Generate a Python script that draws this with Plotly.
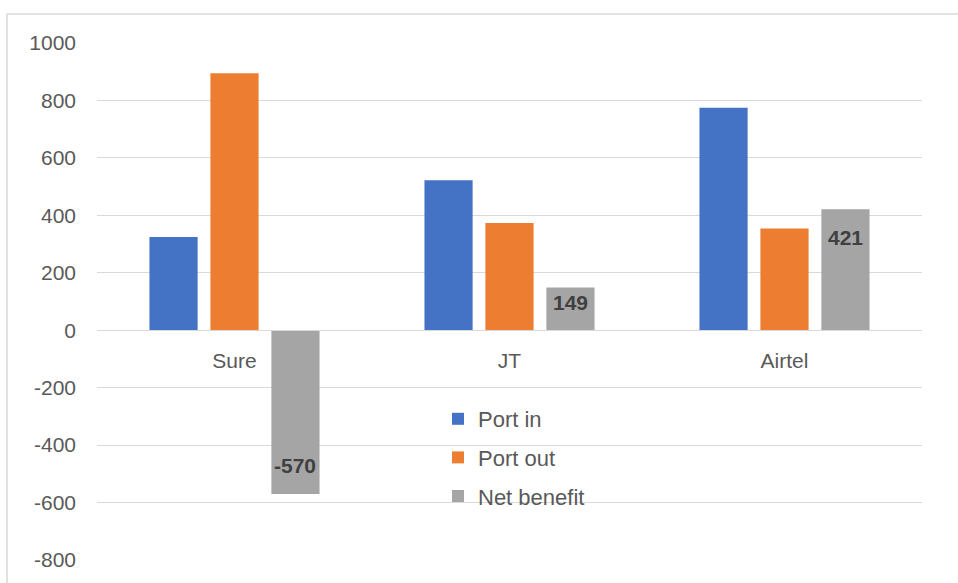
import plotly.graph_objects as go

categories = ["Sure", "JT", "Airtel"]
port_in = [325, 522, 775]
port_out = [895, 373, 354]
net_benefit = [-570, 149, 421]
y_ticks = [-800, -600, -400, -200, 0, 200, 400, 600, 800, 1000]
y_tick_text = [str(v) for v in y_ticks]  # plain hyphen minus, as in the reference

FONT = "Liberation Sans"
W, H = 958, 583
L, R, T, B = 97, 36, 43, 23
pw = W - L - R
ph = H - T - B
Y_MIN, Y_MAX = -800, 1000
BARGAP, BARGROUPGAP = 0.335, 0.21

fig = go.Figure()
fig.add_trace(go.Bar(name="Port in", x=categories, y=port_in, marker_color="#4472C4",
                     marker_line_width=0, legendgroup="a"))
fig.add_trace(go.Bar(name="Port out", x=categories, y=port_out, marker_color="#ED7D31",
                     marker_line_width=0, legendgroup="b"))
fig.add_trace(go.Bar(name="Net benefit", x=categories, y=net_benefit, marker_color="#A5A5A5",
                     marker_line_width=0, legendgroup="c"))

# data labels for Net benefit, placed inside the bar near its end
px_per_unit = ph / (Y_MAX - Y_MIN)
slot_px = pw / len(categories) * (1 - BARGAP) / 3
for cat, v in zip(categories, net_benefit):
    bar_px = abs(v) * px_per_unit
    inset = min(28, bar_px / 2 - 6)
    fig.add_annotation(x=cat, y=v, xref="x", yref="y", text=f"<b>{v}</b>",
                       showarrow=False, xshift=slot_px, yshift=(-inset if v > 0 else inset),
                       yanchor="middle", xanchor="center",
                       font=dict(family=FONT, size=21, color="#404040"))

fig.update_layout(
    width=W, height=H,
    margin=dict(l=L, r=R, t=T, b=B, pad=0),
    paper_bgcolor="white", plot_bgcolor="white",
    barmode="group", bargap=BARGAP, bargroupgap=BARGROUPGAP,
    font=dict(family=FONT, size=20, color="#595959"),
    showlegend=True,
    legend=dict(x=(438 - L) / pw, y=(560 - 398) / ph, xanchor="left", yanchor="top",
                font=dict(family=FONT, size=22, color="#595959"),
                bgcolor="rgba(0,0,0,0)", itemwidth=30, tracegroupgap=7),
    xaxis=dict(anchor="free", position=(0 - Y_MIN) / (Y_MAX - Y_MIN), showgrid=False,
               showline=True, linecolor="#d9d9d9", linewidth=1, ticks="",
               ticklabelstandoff=12,
               tickfont=dict(family=FONT, size=21, color="#595959"), fixedrange=True),
    yaxis=dict(range=[Y_MIN, Y_MAX], tickvals=y_ticks, ticktext=y_tick_text,
               showgrid=True, gridcolor="#d9d9d9",
               gridwidth=1, zeroline=True, zerolinecolor="#d9d9d9", zerolinewidth=1,
               showline=False, ticks="", ticklabelstandoff=20,
               tickfont=dict(family=FONT, size=21, color="#595959")),
)

# outer chart border
fig.add_shape(type="rect", xref="paper", yref="paper",
              x0=(7 - L) / pw, x1=(970 - L) / pw, y0=(560 - 600) / ph, y1=(560 - 14) / ph,
              line=dict(color="#d9d9d9", width=1.5), fillcolor="rgba(0,0,0,0)", layer="below")

fig.write_html("out.html")
